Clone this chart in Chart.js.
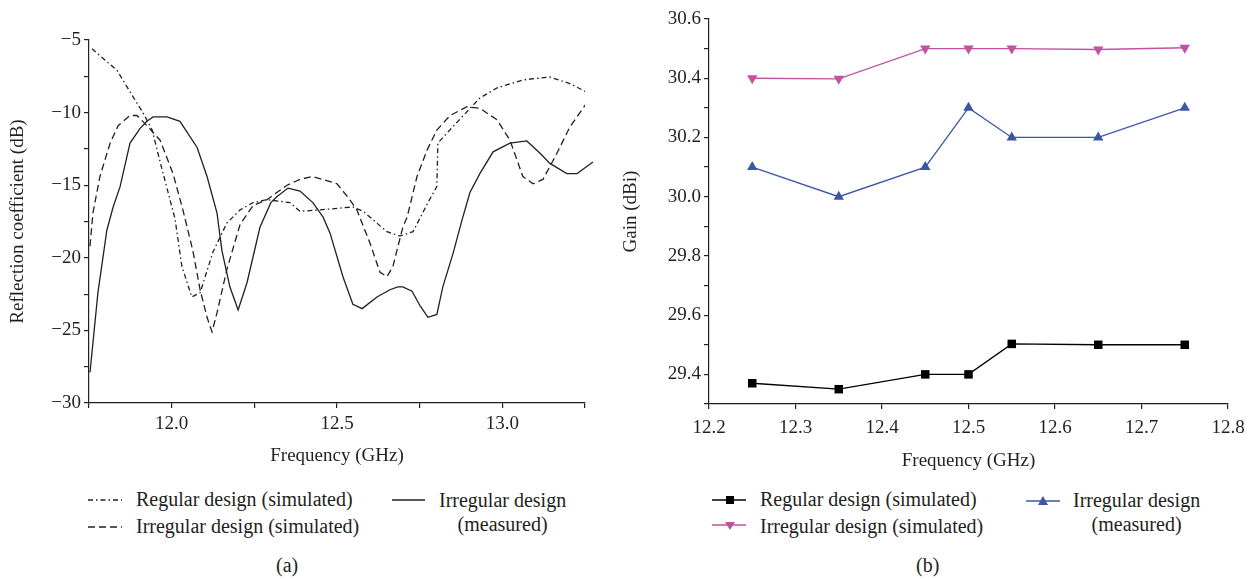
<!DOCTYPE html>
<html>
<head>
<meta charset="utf-8">
<script src="https://cdn.jsdelivr.net/npm/chart.js@4.4.1/dist/chart.umd.min.js"></script>
<style>
  body { margin: 0; background: #fff; width: 1259px; height: 580px; position: relative; overflow: hidden;
         font-family: 'Liberation Serif', 'Times New Roman', serif; color: #231f20; }
  canvas { position: absolute; top: 0; }
  .lg { position: absolute; font-size: 20px; line-height: 22px; white-space: nowrap; }
</style>
</head>
<body>
<canvas id="chartA" width="600" height="480" style="left:0"></canvas>
<canvas id="chartB" width="639" height="480" style="left:620px"></canvas>

<!-- legend (a) -->
<svg style="position:absolute;left:88px;top:495px" width="36" height="10"><line x1="0" y1="5" x2="34" y2="5" stroke="#231f20" stroke-width="1.3" stroke-dasharray="5 3 1.5 3"/></svg>
<div class="lg" style="left:136px;top:488px">Regular design (simulated)</div>
<svg style="position:absolute;left:88px;top:522px" width="36" height="10"><line x1="0" y1="5" x2="34" y2="5" stroke="#231f20" stroke-width="1.3" stroke-dasharray="7 4"/></svg>
<div class="lg" style="left:136px;top:515px">Irregular design (simulated)</div>
<svg style="position:absolute;left:392px;top:495px" width="36" height="10"><line x1="0" y1="5" x2="33" y2="5" stroke="#231f20" stroke-width="1.3"/></svg>
<div class="lg" style="left:439px;top:488px;text-align:center;line-height:24px">Irregular design<br>(measured)</div>
<div class="lg" style="left:276px;top:554px">(a)</div>

<!-- legend (b) -->
<svg style="position:absolute;left:712px;top:492px" width="36" height="16"><line x1="0" y1="8" x2="34" y2="8" stroke="#000" stroke-width="1.3"/><rect x="14" y="4" width="8" height="8" fill="#000"/></svg>
<div class="lg" style="left:760px;top:488px">Regular design (simulated)</div>
<svg style="position:absolute;left:712px;top:519px" width="36" height="16"><line x1="0" y1="6" x2="34" y2="6" stroke="#c4519f" stroke-width="1.3"/><polygon points="13,3 23,3 18,11" fill="#c4519f"/></svg>
<div class="lg" style="left:760px;top:515px">Irregular design (simulated)</div>
<svg style="position:absolute;left:1026px;top:492px" width="36" height="16"><line x1="0" y1="9" x2="34" y2="9" stroke="#3b57a6" stroke-width="1.3"/><polygon points="12,13 22,13 17,4" fill="#3b57a6"/></svg>
<div class="lg" style="left:1073px;top:488px;text-align:center;line-height:24px">Irregular design<br>(measured)</div>
<div class="lg" style="left:916px;top:554px">(b)</div>

<script>
// (a) reflection coefficient
const freqRegSim = [11.759, 11.835, 11.883, 11.913, 11.941, 11.965, 11.995, 12.010, 12.031, 12.061, 12.086,
  12.125, 12.167, 12.207, 12.246, 12.288, 12.358, 12.388, 12.449, 12.548, 12.579, 12.651, 12.690, 12.730,
  12.775, 12.802, 12.805, 12.833, 12.878, 12.932, 12.984, 13.062, 13.144, 13.204, 13.256];
const s11RegSim = [-5.6, -7.1, -8.9, -10.0, -11.2, -13.4, -16.0, -17.3, -20.6, -22.7, -22.4,
  -19.6, -17.6, -16.7, -16.2, -16.0, -16.2, -16.8, -16.7, -16.5, -16.8, -18.2, -18.5, -18.2,
  -16.2, -15.1, -12.1, -11.4, -10.3, -9.0, -8.3, -7.75, -7.55, -8.0, -8.6];

const freqIrrSim = [11.753, 11.762, 11.783, 11.814, 11.838, 11.874, 11.895, 11.925, 11.965, 12.004, 12.034,
  12.064, 12.086, 12.107, 12.122, 12.137, 12.167, 12.207, 12.246, 12.288, 12.318, 12.349, 12.388, 12.427,
  12.500, 12.539, 12.560, 12.600, 12.630, 12.651, 12.669, 12.699, 12.712, 12.742, 12.772, 12.802, 12.842,
  12.893, 12.932, 12.984, 13.023, 13.062, 13.093, 13.123, 13.165, 13.204, 13.256];
const s11IrrSim = [-19.2, -16.9, -14.4, -12.1, -10.9, -10.2, -10.2, -10.9, -11.9, -14.2, -16.7,
  -19.5, -22.2, -24.1, -25.1, -23.8, -20.8, -17.7, -16.4, -16.0, -15.5, -15.0, -14.6, -14.4,
  -14.9, -16.0, -16.7, -19.0, -21.0, -21.3, -20.6, -17.9, -17.2, -14.4, -12.6, -11.2, -10.2,
  -9.6, -9.7, -10.5, -11.9, -14.4, -14.9, -14.6, -12.8, -11.0, -9.3];

const freqIrrMeas = [11.753, 11.777, 11.804, 11.823, 11.844, 11.874, 11.904, 11.925, 11.944, 11.986, 12.025,
  12.077, 12.107, 12.137, 12.152, 12.176, 12.201, 12.228, 12.267, 12.300, 12.318, 12.352, 12.388, 12.427,
  12.458, 12.479, 12.518, 12.548, 12.576, 12.621, 12.660, 12.684, 12.699, 12.727, 12.751, 12.775, 12.802,
  12.820, 12.851, 12.878, 12.902, 12.932, 12.972, 13.023, 13.074, 13.114, 13.144, 13.195, 13.226, 13.244, 13.274];
const s11IrrMeas = [-27.9, -22.4, -18.1, -16.5, -15.1, -12.1, -11.1, -10.6, -10.3, -10.3, -10.6,
  -12.4, -14.4, -16.9, -19.5, -22.0, -23.6, -21.7, -17.9, -16.2, -15.8, -15.2, -15.4, -16.2,
  -17.2, -18.3, -21.3, -23.2, -23.5, -22.7, -22.2, -22.0, -22.0, -22.3, -23.3, -24.1, -23.9,
  -22.0, -19.7, -17.4, -15.5, -14.2, -12.7, -12.1, -11.95, -12.8, -13.5, -14.2, -14.2, -13.9, -13.4];

// (b) gain
const gainFreq = [12.25, 12.35, 12.45, 12.50, 12.55, 12.65, 12.75];
const gainRegSim = [29.37, 29.35, 29.40, 29.40, 29.503, 29.50, 29.50];
const gainIrrSim = [30.40, 30.398, 30.50, 30.50, 30.50, 30.497, 30.503];
const gainIrrMeas = [30.10, 30.00, 30.10, 30.30, 30.20, 30.20, 30.30];

const ink = '#231f20';
Chart.defaults.font.family = 'Liberation Serif';
Chart.defaults.font.size = 19;
Chart.defaults.color = ink;
const tickFont = { family: 'Liberation Serif', size: 19 };
const titleFont = { family: 'Liberation Serif', size: 19 };

function pts(xs, ys) {
  return xs.map((x, i) => ({ x: x, y: ys[i] }));
}

function axisBase() {
  return {
    type: 'linear',
    grid: { drawOnChartArea: false, drawTicks: true, tickLength: 5, color: ink, lineWidth: 1.2 },
    border: { display: true, color: ink, width: 1.2 }
  };
}

// left chart
const xA = axisBase();
Object.assign(xA, {
  min: 11.75, max: 13.25,
  ticks: { stepSize: 0.25, autoSkip: false, maxRotation: 0, color: ink, font: tickFont, padding: 5,
    callback: v => Math.abs(v * 2 - Math.round(v * 2)) < 1e-6 ? v.toFixed(1) : '' },
  title: { display: true, text: 'Frequency (GHz)', color: ink, font: titleFont, padding: { top: 0, bottom: 13 } },
  afterFit: s => { s.height = 77; }
});
const yA = axisBase();
Object.assign(yA, {
  min: -30, max: -5,
  ticks: { stepSize: 2.5, autoSkip: false, color: ink, font: tickFont, padding: 3,
    callback: v => v % 5 === 0 ? '\u2212' + Math.abs(v) : '' },
  title: { display: true, text: 'Reflection coefficient (dB)', color: ink, font: titleFont, padding: { top: 7, bottom: 0 } },
  afterFit: s => { s.width = 89; }
});

new Chart(document.getElementById('chartA'), {
  type: 'line',
  data: {
    datasets: [
      { label: 'Regular design (simulated)', data: pts(freqRegSim, s11RegSim), borderDash: [5, 3, 1.5, 3] },
      { label: 'Irregular design (simulated)', data: pts(freqIrrSim, s11IrrSim), borderDash: [7, 4] },
      { label: 'Irregular design (measured)', data: pts(freqIrrMeas, s11IrrMeas), clip: 10 }
    ].map(d => Object.assign({ borderColor: ink, borderWidth: 1.3, pointRadius: 0, tension: 0, fill: false }, d))
  },
  options: {
    responsive: false, animation: false, devicePixelRatio: 1,
    layout: { padding: { left: 0, top: 40, right: 15, bottom: 0 } },
    plugins: { legend: { display: false }, tooltip: { enabled: false } },
    scales: { x: xA, y: yA }
  }
});

// right chart
const xB = axisBase();
Object.assign(xB, {
  min: 12.2, max: 12.8,
  ticks: { stepSize: 0.1, autoSkip: false, maxRotation: 0, color: ink, font: tickFont, padding: 8,
    callback: v => v.toFixed(1) },
  title: { display: true, text: 'Frequency (GHz)', color: ink, font: titleFont, padding: { top: 0, bottom: 8 } },
  afterFit: s => { s.height = 76; }
});
const yB = axisBase();
Object.assign(yB, {
  min: 29.3, max: 30.6,
  ticks: { stepSize: 0.1, autoSkip: false, color: ink, font: tickFont, padding: 3,
    callback: v => Math.round(v * 10) % 2 === 0 ? v.toFixed(1) : '' },
  title: { display: true, text: 'Gain (dBi)', color: ink, font: titleFont, padding: { top: 0, bottom: 0 } },
  afterFit: s => { s.width = 89; }
});

new Chart(document.getElementById('chartB'), {
  type: 'line',
  data: {
    datasets: [
      { label: 'Regular design (simulated)', data: pts(gainFreq, gainRegSim), borderColor: '#000', backgroundColor: '#000',
        pointStyle: 'rect', pointRadius: 6 },
      { label: 'Irregular design (simulated)', data: pts(gainFreq, gainIrrSim), borderColor: '#c4519f', backgroundColor: '#c4519f',
        pointStyle: 'triangle', pointRotation: 180, pointRadius: 6 },
      { label: 'Irregular design (measured)', data: pts(gainFreq, gainIrrMeas), borderColor: '#3b57a6', backgroundColor: '#3b57a6',
        pointStyle: 'triangle', pointRadius: 6 }
    ].map(d => Object.assign({ borderWidth: 1.3, pointBorderWidth: 0, tension: 0, fill: false, clip: 10 }, d))
  },
  options: {
    responsive: false, animation: false, devicePixelRatio: 1,
    layout: { padding: { left: 0, top: 19, right: 31, bottom: 0 } },
    plugins: { legend: { display: false }, tooltip: { enabled: false } },
    scales: { x: xB, y: yB }
  }
});
</script>
</body>
</html>
